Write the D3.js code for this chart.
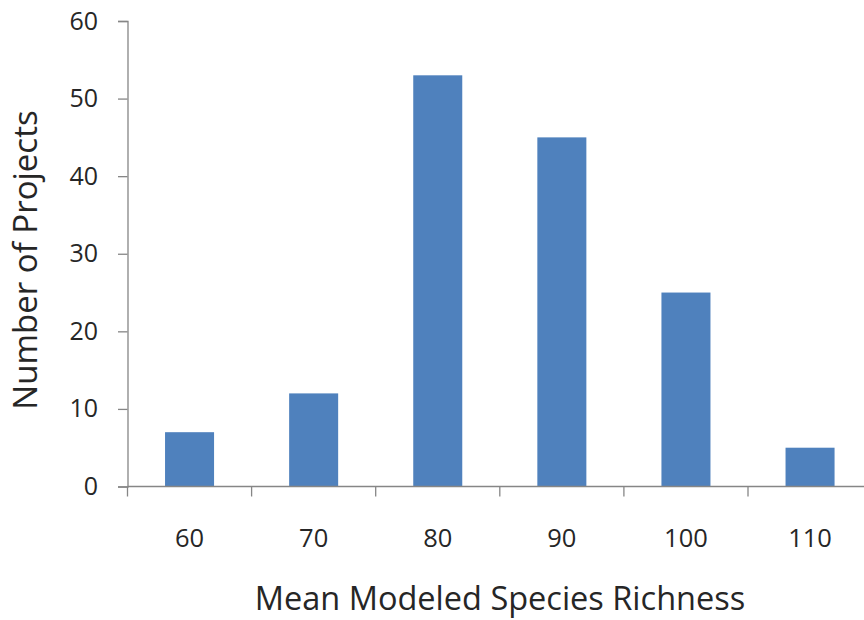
<!DOCTYPE html>
<html><head><meta charset="utf-8">
<script src="https://cdn.jsdelivr.net/npm/d3@7"></script>
<style>body{margin:0;background:#fff}</style>
</head><body>
<svg id="c" width="864" height="620"></svg>
<script>
const categories = ["60","70","80","90","100","110"];
const values = [7, 12, 53, 45, 25, 5];
const yTicks = [0,10,20,30,40,50,60];

const svg = d3.select("#c");
const mLeft = 127.5, bandW = 124.1, mTop = 21, mBottom = 486.5;
const x = d3.scaleBand().domain(categories).range([mLeft, mLeft + bandW*categories.length]).paddingInner(0.605).paddingOuter(0.3025);
const y = d3.scaleLinear().domain([0,60]).range([mBottom, mTop]);
const font = "'Open Sans', 'Noto Sans', sans-serif";

svg.selectAll("rect.bar").data(values).enter().append("rect")
  .attr("x",(d,i)=>x(categories[i])).attr("width",x.bandwidth())
  .attr("y",d=>y(d)).attr("height",d=>y(0)-y(d)).attr("fill","#4F81BD");

const yAxis = svg.append("g").attr("transform",`translate(${mLeft},0)`)
  .call(d3.axisLeft(y).tickValues(yTicks).tickSize(9.5).tickPadding(20));
yAxis.select(".domain").attr("stroke","#868686").attr("stroke-width",1.3);
yAxis.selectAll(".tick line").attr("stroke","#868686").attr("stroke-width",1.3);
yAxis.selectAll("text").attr("font-family",font).attr("font-size",25).attr("fill","#262626");

const xAxis = svg.append("g");
xAxis.append("line").attr("x1",mLeft).attr("x2",864).attr("y1",mBottom).attr("y2",mBottom).attr("stroke","#868686").attr("stroke-width",1.3);
const bounds = d3.range(categories.length+1).map(i=>x.range()[0]+i*x.step());
xAxis.selectAll("line.tk").data(bounds.filter(b=>b<=864)).enter().append("line")
  .attr("x1",d=>d).attr("x2",d=>d).attr("y1",mBottom).attr("y2",mBottom+10).attr("stroke","#868686").attr("stroke-width",1.3);
xAxis.selectAll("text").data(categories).enter().append("text")
  .attr("x",d=>x(d)+x.bandwidth()/2).attr("y",547).attr("text-anchor","middle")
  .attr("font-family",font).attr("font-size",25.5).attr("fill","#262626").text(d=>d);

svg.append("text").attr("x",500).attr("y",610).attr("text-anchor","middle")
  .attr("font-family",font).attr("font-size",32.5).attr("fill","#262626").text("Mean Modeled Species Richness");
svg.append("text").attr("transform","translate(37,260) rotate(-90)").attr("text-anchor","middle")
  .attr("font-family",font).attr("font-size",33).attr("fill","#262626").text("Number of Projects");
</script>
</body></html>
